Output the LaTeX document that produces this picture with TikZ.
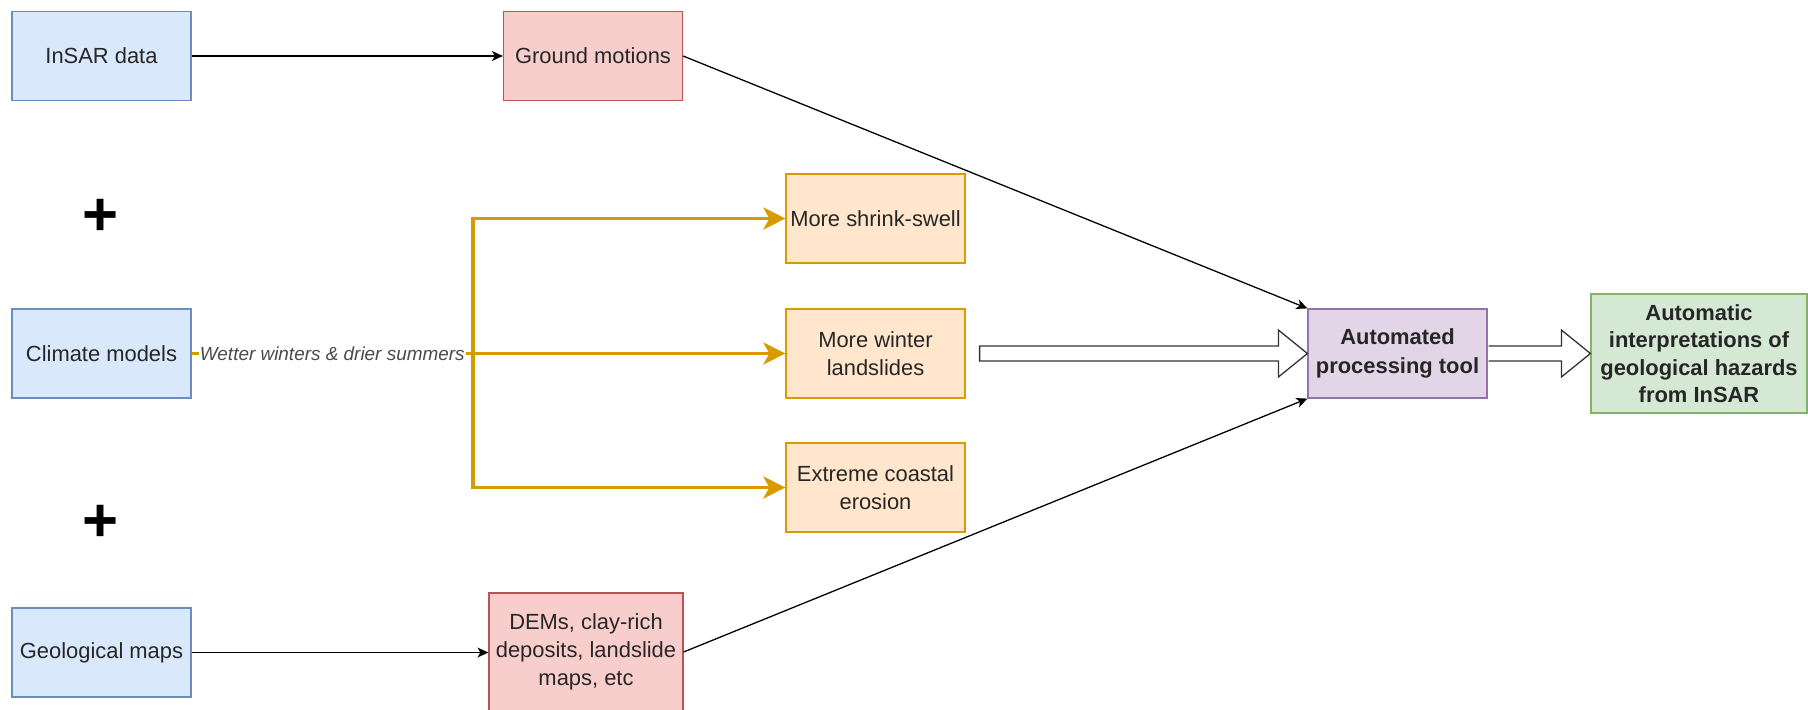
\documentclass[tikz,border=0pt]{standalone}
\usepackage{fontspec}
\setmainfont{Liberation Sans}
\usetikzlibrary{arrows.meta,calc}
\definecolor{bluefill}{HTML}{DAE8FC}
\definecolor{bluedraw}{HTML}{6C8EBF}
\definecolor{redfill}{HTML}{F8CECC}
\definecolor{reddraw}{HTML}{B85450}
\definecolor{orfill}{HTML}{FFE6CC}
\definecolor{ordraw}{HTML}{D79B00}
\definecolor{purfill}{HTML}{E1D5E7}
\definecolor{purdraw}{HTML}{9673A6}
\definecolor{grfill}{HTML}{D5E8D4}
\definecolor{grdraw}{HTML}{82B366}
\definecolor{txt}{HTML}{262626}
\definecolor{lblgray}{HTML}{4A4A4A}
\definecolor{blockgray}{HTML}{333333}
\tikzset{
  box/.style={draw, line width=1.2bp, minimum width=179bp, minimum height=89bp,
    inner sep=0pt, align=center, font=\fontsize{22}{28}\selectfont, text=txt},
  bluebox/.style={box, fill=bluefill, draw=bluedraw},
  redbox/.style={box, fill=redfill, draw=reddraw},
  orbox/.style={box, fill=orfill, draw=ordraw},
  purbox/.style={box, fill=purfill, draw=purdraw, font=\fontsize{22}{29}\selectfont\bfseries},
  grbox/.style={box, fill=grfill, draw=grdraw, font=\fontsize{22}{27.5}\selectfont\bfseries},
  blackarrow/.style={draw=black, line width=1.3bp, -{Stealth[length=11bp,width=10bp,inset=3bp]}},
  orline/.style={draw=ordraw, line width=3.5bp, line join=miter},
  orarrow/.style={orline, -{Stealth[length=22bp,width=22bp,inset=6bp]}},
  blockarrow/.style={draw=blockgray, fill=white, line width=1.3bp, line join=miter},
  plussign/.style={font=\fontsize{62}{62}\selectfont\bfseries, inner sep=0pt},
  edgelabel/.style={fill=white, inner sep=1bp, font=\fontsize{19}{22}\selectfont\itshape, text=lblgray},
}
\begin{document}
\begin{tikzpicture}[x=1bp,y=-1bp]
\useasboundingbox (0,0) rectangle (1808,710);
% boxes
\node[bluebox] (insar) at (101.5,56) {InSAR data};
\node[redbox] (ground) at (593,56) {Ground motions};
\node[bluebox] (climate) at (101.5,353.5) {Climate models};
\node[bluebox] (geo) at (101.5,652.5) {Geological maps};
\node[redbox, minimum width=194bp, minimum height=118bp] (dems) at (586,652) {DEMs, clay-rich\\deposits, landslide\\maps, etc};
\node[orbox] (shrink) at (875.5,218.5) {More shrink-swell};
\node[orbox] (winter) at (875.5,353.5) {More winter\\landslides};
\node[orbox] (coastal) at (875.5,487.5) {Extreme coastal\\erosion};
\node[purbox] (auto) at (1397.5,353.5) {Automated\\processing tool};
\node[grbox, minimum width=216bp, minimum height=119bp] (interp) at (1699,353.5) {Automatic\\interpretations of\\geological hazards\\from InSAR};
% plus signs
\node[plussign] (plus1) at (101,217) {+};
\node[plussign] (plus2) at (101,523) {+};
% orange connectors
\coordinate (j) at (473,353.5);
\draw[orline] (climate.east) -- (j);
\draw[orarrow] (j) |- (shrink.west);
\draw[orarrow] (j) -- (winter.west);
\draw[orarrow] (j) |- (coastal.west);
\node[edgelabel] (lbl) at ($(climate.east)!0.5!(j)$) {Wetter winters \& drier summers};
% black connectors
\draw[blackarrow] (insar.east) -- (ground.west);
\draw[blackarrow] (geo.east) -- (geo.east -| dems.west);
\draw[blackarrow] (ground.east) -- (auto.north west);
\draw[blackarrow] (dems.east) -- (auto.south west);
% block arrows
\draw[blockarrow] ($(winter.east)+(14,-7.5)$) -- ($(auto.west)+(-29,-7.5)$) -- ($(auto.west)+(-29,-23.5)$) -- (auto.west) -- ($(auto.west)+(-29,23.5)$) -- ($(auto.west)+(-29,7.5)$) -- ($(winter.east)+(14,7.5)$) -- cycle;
\draw[blockarrow] ($(auto.east)+(1,-7.5)$) -- ($(interp.west)+(-29,-7.5)$) -- ($(interp.west)+(-29,-23.5)$) -- (interp.west) -- ($(interp.west)+(-29,23.5)$) -- ($(interp.west)+(-29,7.5)$) -- ($(auto.east)+(1,7.5)$);
\end{tikzpicture}
\end{document}
